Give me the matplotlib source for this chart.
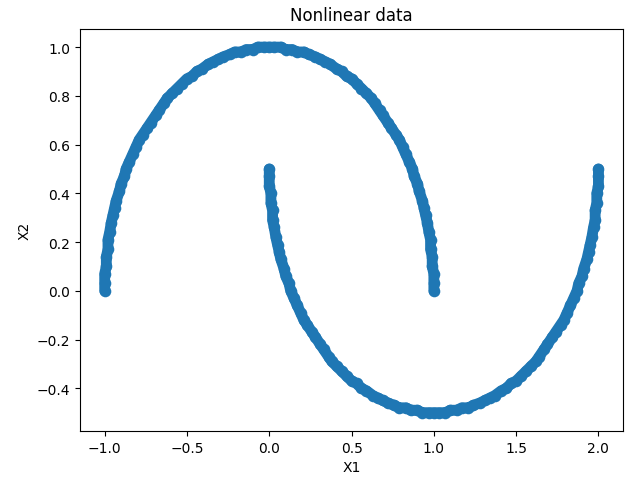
import matplotlib
matplotlib.use('Agg')
import matplotlib.pyplot as plt

# points read along the two moons
upper_x = [1.00, 1.00, 1.00, 0.99, 0.99, 0.98, 0.98, 0.97, 0.96, 0.95, 0.94, 0.93, 0.91, 0.90, 0.88,
           0.87, 0.85, 0.83, 0.81, 0.79, 0.77, 0.74, 0.72, 0.69, 0.67, 0.64, 0.62, 0.59, 0.56, 0.53,
           0.50, 0.47, 0.44, 0.41, 0.37, 0.34, 0.31, 0.28, 0.24, 0.21, 0.17, 0.14, 0.10, 0.07, 0.03, 0.00,
           -0.03, -0.07, -0.10, -0.14, -0.17, -0.21, -0.24, -0.28, -0.31, -0.34, -0.37, -0.41, -0.44,
           -0.47, -0.50, -0.53, -0.56, -0.59, -0.62, -0.64, -0.67, -0.69, -0.72, -0.74, -0.77, -0.79,
           -0.81, -0.83, -0.85, -0.87, -0.88, -0.90, -0.91, -0.93, -0.94, -0.95, -0.96, -0.97, -0.98,
           -0.98, -0.99, -0.99, -1.00, -1.00, -1.00]
upper_y = [0.00, 0.03, 0.07, 0.10, 0.14, 0.17, 0.21, 0.24, 0.28, 0.31, 0.34, 0.37, 0.41, 0.44, 0.47,
           0.50, 0.53, 0.56, 0.59, 0.62, 0.64, 0.67, 0.69, 0.72, 0.74, 0.77, 0.79, 0.81, 0.83, 0.85,
           0.87, 0.88, 0.90, 0.91, 0.93, 0.94, 0.95, 0.96, 0.97, 0.98, 0.98, 0.99, 0.99, 1.00, 1.00, 1.00,
           1.00, 1.00, 0.99, 0.99, 0.98, 0.98, 0.97, 0.96, 0.95, 0.94, 0.93, 0.91, 0.90, 0.88, 0.87,
           0.85, 0.83, 0.81, 0.79, 0.77, 0.74, 0.72, 0.69, 0.67, 0.64, 0.62, 0.59, 0.56, 0.53, 0.50,
           0.47, 0.44, 0.41, 0.37, 0.34, 0.31, 0.28, 0.24, 0.21, 0.17, 0.14, 0.10, 0.07, 0.03, 0.00]
lower_x = [0.00, 0.00, 0.00, 0.01, 0.01, 0.02, 0.02, 0.03, 0.04, 0.05, 0.06, 0.07, 0.09, 0.10, 0.12,
           0.13, 0.15, 0.17, 0.19, 0.21, 0.23, 0.26, 0.28, 0.31, 0.33, 0.36, 0.38, 0.41, 0.44, 0.47,
           0.50, 0.53, 0.56, 0.59, 0.63, 0.66, 0.69, 0.72, 0.76, 0.79, 0.83, 0.86, 0.90, 0.93, 0.97, 1.00,
           1.03, 1.07, 1.10, 1.14, 1.17, 1.21, 1.24, 1.28, 1.31, 1.34, 1.37, 1.41, 1.44, 1.47, 1.50,
           1.53, 1.56, 1.59, 1.62, 1.64, 1.67, 1.69, 1.72, 1.74, 1.77, 1.79, 1.81, 1.83, 1.85, 1.87,
           1.88, 1.90, 1.91, 1.93, 1.94, 1.95, 1.96, 1.97, 1.98, 1.98, 1.99, 1.99, 2.00, 2.00, 2.00]
lower_y = [0.50, 0.47, 0.43, 0.40, 0.36, 0.33, 0.29, 0.26, 0.22, 0.19, 0.16, 0.13, 0.09, 0.06, 0.03,
           0.00, -0.03, -0.06, -0.09, -0.12, -0.14, -0.17, -0.19, -0.22, -0.24, -0.27, -0.29, -0.31,
           -0.33, -0.35, -0.37, -0.38, -0.40, -0.41, -0.43, -0.44, -0.45, -0.46, -0.47, -0.48, -0.48,
           -0.49, -0.49, -0.50, -0.50, -0.50,
           -0.50, -0.50, -0.49, -0.49, -0.48, -0.48, -0.47, -0.46, -0.45, -0.44, -0.43, -0.41, -0.40,
           -0.38, -0.37, -0.35, -0.33, -0.31, -0.29, -0.27, -0.24, -0.22, -0.19, -0.17, -0.14, -0.12,
           -0.09, -0.06, -0.03, 0.00, 0.03, 0.06, 0.09, 0.13, 0.16, 0.19, 0.22, 0.26, 0.29, 0.33, 0.36,
           0.40, 0.43, 0.47, 0.50]

X1 = upper_x + lower_x
X2 = upper_y + lower_y

fig = plt.figure(figsize=(6.25, 4.81), dpi=100)
color = '#1f77b4'
# thick line under the points fills the gaps between neighbouring markers
plt.plot(upper_x, upper_y, color=color, lw=7.8, solid_capstyle='round', solid_joinstyle='round')
plt.plot(lower_x, lower_y, color=color, lw=7.8, solid_capstyle='round', solid_joinstyle='round')
plt.scatter(X1, X2, s=70, color=color, linewidths=0)
plt.title('Nonlinear data')
plt.xlabel('X1')
plt.ylabel('X2')
plt.subplots_adjust(left=0.128, right=0.997, top=0.938, bottom=0.102)
plt.savefig('out.png')
